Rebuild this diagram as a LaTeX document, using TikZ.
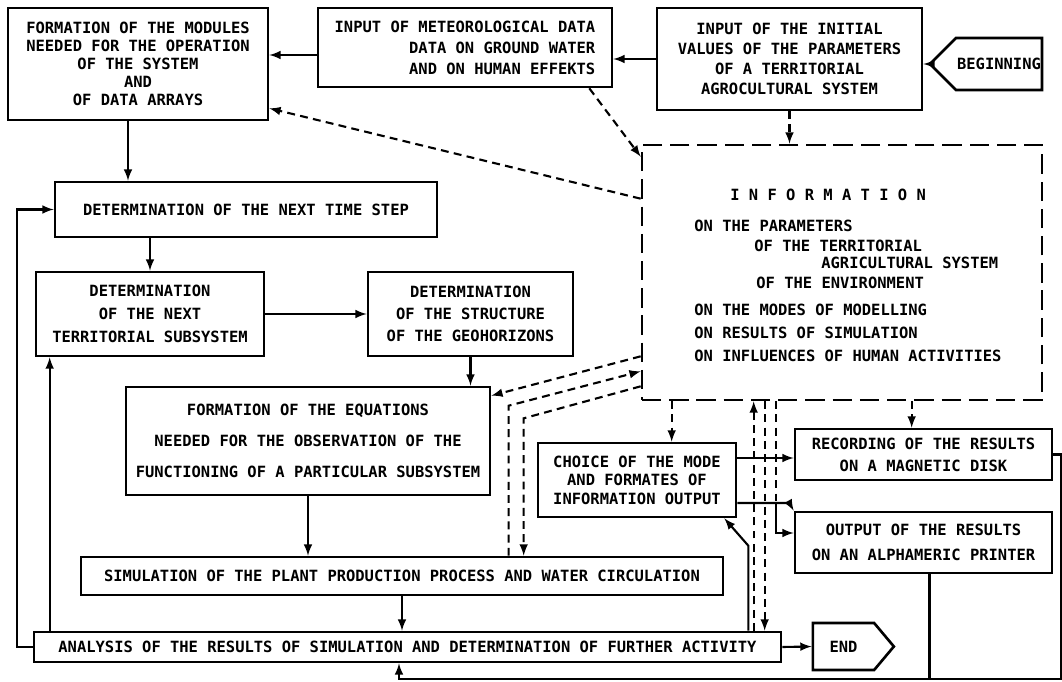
\documentclass[tikz,border=0pt]{standalone}
\usepackage{fontspec}
\setmonofont{DejaVu Sans Mono}
\usepackage{tikz}
\usetikzlibrary{arrows,calc,shapes.symbols}

\begin{document}
\begin{tikzpicture}[x=0.02cm,y=-0.02cm,>=latex,
  box/.style={draw,line width=1.5pt,align=center,inner sep=0pt,font=\ttfamily\bfseries\fontsize{8.8}{#1}\selectfont},
  box/.default=11,
  dims/.style 2 args={minimum width=#1*0.02cm,minimum height=#2*0.02cm},
  infotext/.style={anchor=west,inner sep=0pt,font=\ttfamily\bfseries\fontsize{8.8}{10}\selectfont},
  flow/.style={line width=1.2pt,->},
  dflow/.style={line width=1.2pt,dash pattern=on 4.5pt off 3pt}]
\useasboundingbox (0,0) rectangle (1062,682);
%Pixelraster: 1 Einheit = 1 px, y nach unten
%obere Reihe
\node[box=10.2,dims={260}{112}] (fm) at (138,64) {FORMATION OF THE MODULES\\NEEDED FOR THE OPERATION\\OF THE SYSTEM\\AND\\OF DATA ARRAYS};
\node[box=11.9,dims={294}{79},align=right] (im) at (465,47.5) {INPUT OF METEOROLOGICAL DATA\\DATA ON GROUND WATER\\AND ON HUMAN EFFEKTS};
\node[box=11.3,dims={265}{102}] (ii) at (789.5,59) {INPUT OF THE INITIAL\\VALUES OF THE PARAMETERS\\OF A TERRITORIAL\\AGROCULTURAL SYSTEM};
\node[box,dims={112}{52},signal,signal to=west,signal pointer angle=90] (begin) at (999,64) {BEGINNING};
%Informationsblock
\node[draw,line width=1.5pt,dash pattern=on 11pt off 4.5pt,dims={400}{255}] (info) at (842,272.5) {};
\node[infotext] (i0) at (730,195) {I N F O R M A T I O N};
\node[infotext] (i1) at (694,226) {ON THE PARAMETERS};
\node[infotext] (i2) at (754,246) {OF THE TERRITORIAL};
\node[infotext] (i3) at (821,263) {AGRICULTURAL SYSTEM};
\node[infotext] (i4) at (756,283) {OF THE ENVIRONMENT};
\node[infotext] (i5) at (694,310) {ON THE MODES OF MODELLING};
\node[infotext] (i6) at (694,333) {ON RESULTS OF SIMULATION};
\node[infotext] (i7) at (694,356) {ON INFLUENCES OF HUMAN ACTIVITIES};
%Rechenschleife
\node[box,dims={382}{55}] (ts) at (246,209.5) {DETERMINATION OF THE NEXT TIME STEP};
\node[box=13,dims={228}{84}] (ns) at (150,314) {DETERMINATION\\OF THE NEXT\\TERRITORIAL SUBSYSTEM};
\node[box=12.5,dims={205}{84}] (sg) at (470.5,314) {DETERMINATION\\OF THE STRUCTURE\\OF THE GEOHORIZONS};
\node[box=17.6,dims={364}{108}] (fe) at (308,441) {FORMATION OF THE EQUATIONS\\NEEDED FOR THE OBSERVATION OF THE\\FUNCTIONING OF A PARTICULAR SUBSYSTEM};
\node[box,dims={642}{38}] (sim) at (402,576) {SIMULATION OF THE PLANT PRODUCTION PROCESS AND WATER CIRCULATION};
\node[box,dims={747}{30}] (an) at (407.5,647) {ANALYSIS OF THE RESULTS OF SIMULATION AND DETERMINATION OF FURTHER ACTIVITY};
\node[box,dims={81}{47},signal,signal to=east,signal pointer angle=100] (end) at (843.5,646.5) {END};
%Ausgabe
\node[box=10.5,dims={198}{74}] (ch) at (637,480) {CHOICE OF THE MODE\\AND FORMATES OF\\INFORMATION OUTPUT};
\node[box=12.5,dims={257}{51}] (rec) at (923.5,454.5) {RECORDING OF THE RESULTS\\ON A MAGNETIC DISK};
\node[box=14.2,dims={257}{61}] (out) at (923.5,542.5) {OUTPUT OF THE RESULTS\\ON AN ALPHAMERIC PRINTER};
%Hilfspunkte fuer die Verbindungen
\coordinate (a1) at ($(im.west)+(0,7.5)$);
\coordinate (a2) at ($(fm.south)+(-10,0)$);
\coordinate (a3) at ($(an.north west)+(17,0)$);
\coordinate (a4) at ($(an.north east)+(-34,0)$);
\coordinate (a5) at ($(ch.east)+(0,-22)$);
\coordinate (a6) at ($(ch.east)+(0,23)$);
\coordinate (a7) at ($(info.south west)+(135,0)$);
\coordinate (a8) at ($(out.west)+(0,-9.5)$);
\coordinate (a9) at ($(info.south west)+(113,0)$);
\coordinate (a10) at ($(info.south west)+(124,0)$);
\coordinate (a11) at ($(info.south west)+(31,0)$);
\coordinate (a12) at ($(info.south west)+(271,0)$);
\coordinate (a13) at ($(sim.north west)+(429,0)$);
\coordinate (a14) at ($(sim.north west)+(444,0)$);
\coordinate (a15) at ($(an.south)+(-8.5,0)$);
\coordinate (a16) at ($(out.south)+(6,0)$);
%durchgezogene Pfeile
\draw[flow] (begin.west) -- (begin.west -| ii.east);
\draw[flow] (ii.west) -- (ii.west -| im.east);
\draw[flow] (a1) -- (a1 -| fm.east);
\draw[flow] (a2) -- (a2 |- ts.north);
\draw[flow] (ns.north |- ts.south) -- (ns.north);
\draw[flow] (ns.east) -- (sg.west);
\draw[flow] (sg.south) -- (sg.south |- fe.north);
\draw[flow] (fe.south) -- (fe.south |- sim.north);
\draw[flow] (sim.south) -- (sim.south |- an.north);
\draw[flow] (an.east) -- (end.west);
\draw[flow] (an.west) -- ++(-16,0) |- (ts.west);
\draw[flow] (a3) -- (a3 |- ns.south);
\draw[flow] (a4) -- ++(0,-85) -- ($(ch.south east)+(-13,0)$);
\draw[flow] (a5) -- (a5 -| rec.west);
\draw[flow] (a6) -- ++(52,0) -- (out.north west);
\draw[flow] (a7 |- a6) |- (a8);
\draw[flow] (rec.east) -- ++(8,0) |- ($(a15)+(0,16)$) -- (a15);
\draw[line width=1.2pt] (a16) -- ++(0,105);
%gestrichelte Pfeile
\draw[dflow,->] (ii.south) -- (ii.south |- info.north);
\draw[dflow,->] ($(im.south east)+(-24,0)$) -- ($(info.north west)+(0,13)$);
\draw[dflow,->] ($(info.north west)+(0,55)$) -- ($(fm.south east)+(0,-13)$);
\draw[dflow,->] ($(info.south west)+(0,-45)$) -- ($(fe.north east)+(0,10)$);
\draw[dflow,->] (a13) -- ++(0,-150) -- ($(info.south west)+(0,-30)$);
\draw[dflow,->] ($(info.south west)+(0,-15)$) -- ++(-117,32) -- (a14);
\draw[dflow,->] (a11) -- (a11 |- ch.north);
\draw[dflow,->] (a12) -- (a12 |- rec.north);
\draw[dflow,->] (a9 |- an.north) -- (a9);
\draw[dflow,->] (a10) -- (a10 |- an.north);
\draw[dflow] (a7) -- (a7 |- a6);
\end{tikzpicture}
\end{document}
